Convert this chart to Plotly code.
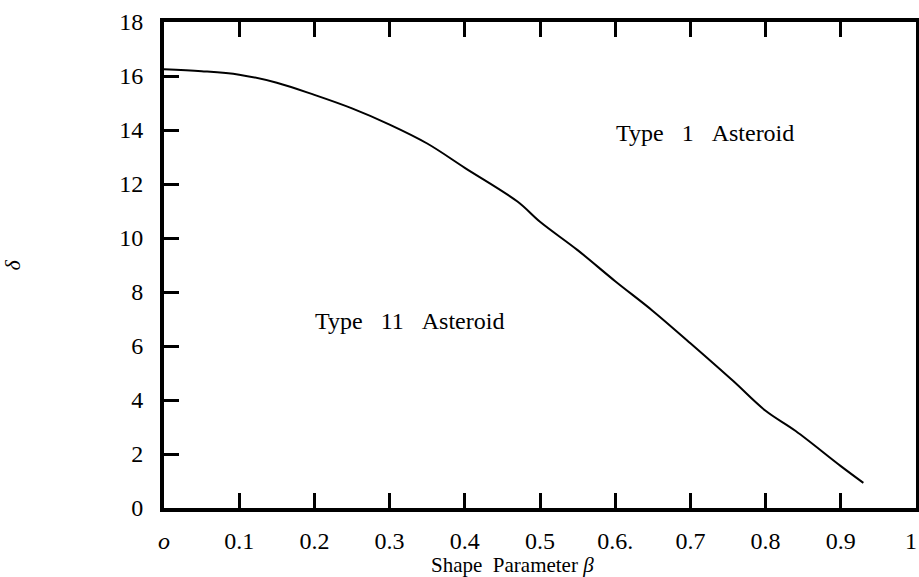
import plotly.graph_objects as go

# Curve data: shape parameter beta vs delta
beta = [0.0, 0.05, 0.1, 0.15, 0.2, 0.25, 0.3, 0.35, 0.4, 0.47, 0.5, 0.55, 0.6, 0.65, 0.7, 0.757, 0.8, 0.84, 0.9, 0.93]
delta = [16.25, 16.18, 16.05, 15.75, 15.3, 14.8, 14.2, 13.5, 12.6, 11.35, 10.6, 9.55, 8.4, 7.3, 6.1, 4.7, 3.6, 2.85, 1.55, 0.93]

x_tickvals = [0, 0.1, 0.2, 0.3, 0.4, 0.5, 0.6, 0.7, 0.8, 0.9, 1.0]
x_ticktext = ["<i>o</i>", "0.1", "0.2", "0.3", "0.4", "0.5", "0.6.", "0.7", "0.8", "0.9", ""]
y_tickvals = [0, 2, 4, 6, 8, 10, 12, 14, 16, 18]
y_ticktext = [str(v) for v in y_tickvals]

FONT = "Liberation Serif, Times New Roman, serif"
SP = "&nbsp;" * 3

fig = go.Figure()
fig.add_trace(go.Scatter(x=beta, y=delta, mode="lines",
                         line=dict(color="black", width=2, shape="spline"),
                         showlegend=False, hoverinfo="skip"))

fig.add_annotation(x=0.72, y=13.9, text="Type" + SP + "1" + SP + "Asteroid", showarrow=False,
                   xref="x", yref="y", font=dict(family=FONT, size=24, color="black"))
fig.add_annotation(x=0.327, y=6.93, text="Type" + SP + "11" + SP + "Asteroid", showarrow=False,
                   xref="x", yref="y", font=dict(family=FONT, size=24, color="black"))
fig.add_annotation(x=-0.192, y=0.5, xref="paper", yref="paper", text="<i>δ</i>",
                   showarrow=False, textangle=-90, xanchor="center", yanchor="middle",
                   xshift=-8,
                   font=dict(family=FONT, size=22, color="black"))
# last x tick label, kept inside the page edge
fig.add_annotation(x=1.0, y=0, xref="paper", yref="paper", text="1",
                   showarrow=False, xanchor="right", yanchor="top", xshift=3, yshift=-18,
                   font=dict(family=FONT, size=24, color="black"))
# x axis title
fig.add_annotation(x=0.463, y=0, xref="paper", yref="paper", text="Shape&nbsp;&nbsp;Parameter <i>β</i>",
                   showarrow=False, xanchor="center", yanchor="middle", yshift=-57,
                   font=dict(family=FONT, size=21, color="black"))

fig.update_layout(
    width=919, height=577,
    margin=dict(l=164, r=3, t=22, b=69),
    paper_bgcolor="white", plot_bgcolor="white",
    font=dict(family=FONT, size=24, color="black"),
    xaxis=dict(range=[0, 1], tickvals=x_tickvals, ticktext=x_ticktext,
               ticks="inside", ticklen=15, tickwidth=3, tickcolor="black",
               showline=True, linewidth=4, linecolor="black", mirror="ticks",
               showgrid=False, zeroline=False, ticklabelstandoff=8, automargin=False),
    yaxis=dict(range=[0, 18], tickvals=y_tickvals, ticktext=y_ticktext,
               ticks="inside", ticklen=15, tickwidth=3, tickcolor="black",
               showline=True, linewidth=4, linecolor="black", mirror=True,
               showgrid=False, zeroline=False, ticklabelstandoff=12, automargin=False),
)

fig.write_html("out.html", config={"displayModeBar": False},
               post_script="document.body.style.margin='0';document.body.style.overflow='hidden';")
